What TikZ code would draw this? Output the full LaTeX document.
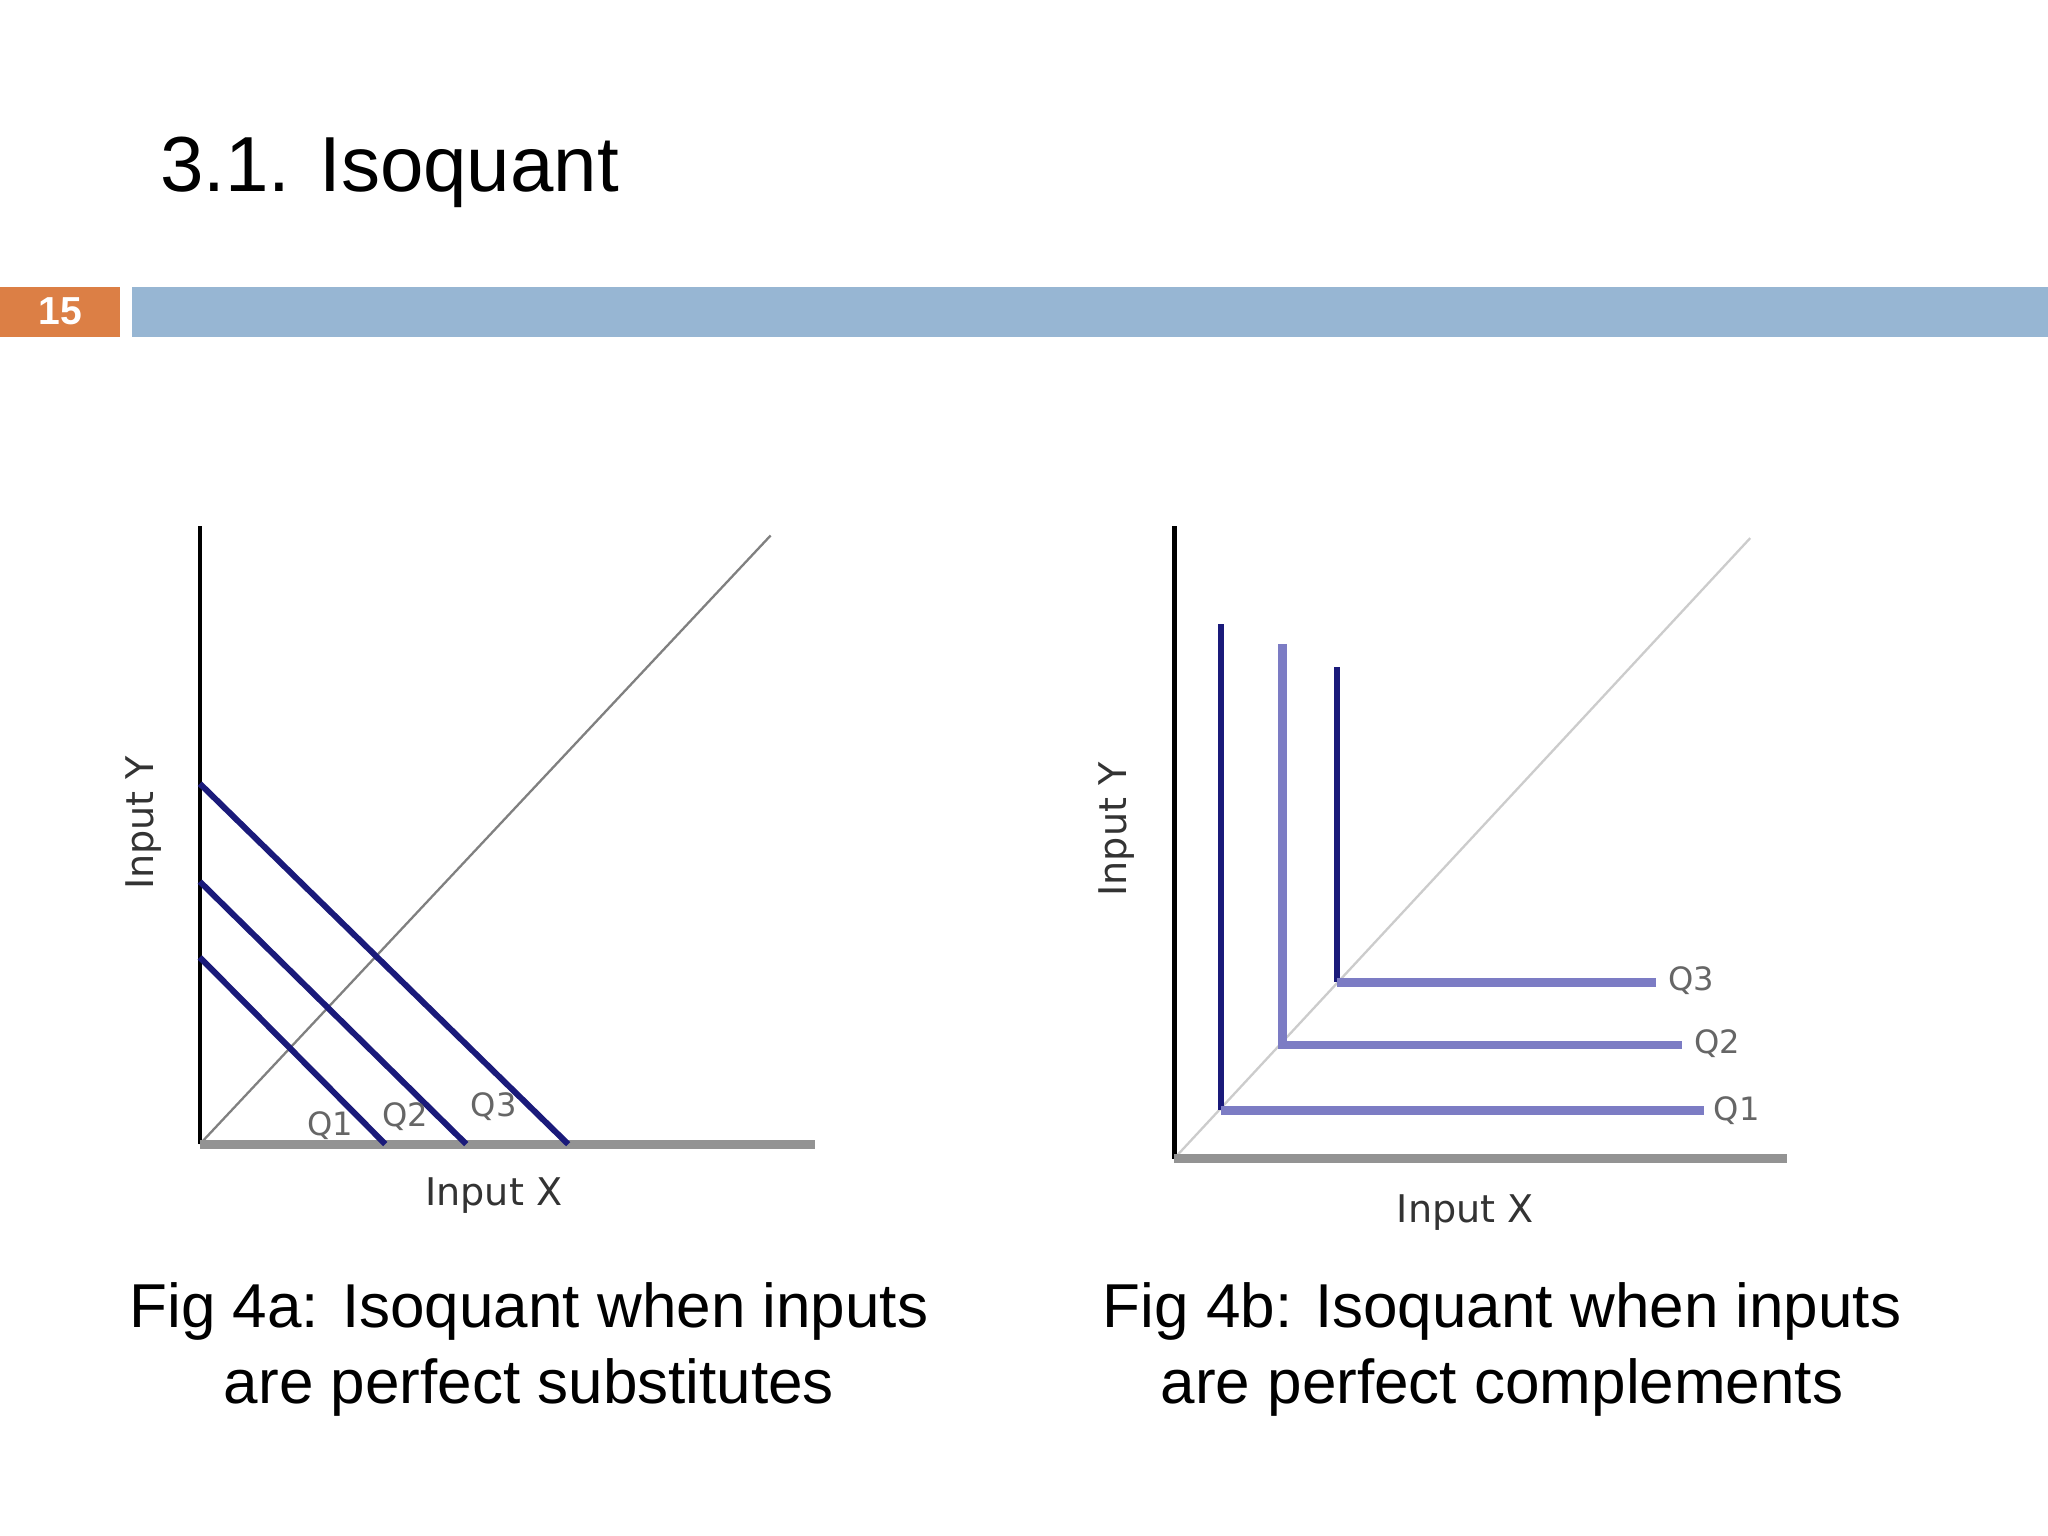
\documentclass[tikz,border=0pt]{standalone}
\usepackage{fontspec}
\setmainfont{Liberation Sans}
\newfontfamily\axisfont{DejaVu Sans}
\definecolor{barblue}{HTML}{97B6D3}
\definecolor{barorange}{HTML}{DC7F45}
\definecolor{navy}{HTML}{1A1A7A}
\definecolor{lav}{HTML}{7C7CC4}
\tikzset{
 ax/.style={line width=1pt,black},
 xax/.style={line width=2pt,gray!85},
 diag/.style={line width=0.5pt,gray},
 iso/.style={line width=1.3pt,navy},
 isol/.style={line width=1.9pt,lav},
 ql/.style={font=\axisfont\fontsize{7}{8}\selectfont,text=gray!80!black,inner sep=1pt},
 axl/.style={font=\axisfont\fontsize{8.3}{10}\selectfont,text=black!80},
 captext/.style={font=\fontsize{13.5}{16.5}\selectfont,align=center}
}
\begin{document}
\begin{tikzpicture}[x=0.01cm,y=-0.01cm]
\useasboundingbox (0,0) rectangle (1568,1176);
\fill[white] (0,0) rectangle (1568,1176);
\node[anchor=base west,inner sep=0pt,font=\fontsize{17}{20}\selectfont] (title) at (122,147) {3.1. Isoquant};
\fill[barorange] (0,220) rectangle (92,258);
\node[text=white,font=\bfseries\fontsize{8.5}{10}\selectfont] (num) at (46,238) {15};
\fill[barblue] (101,220) rectangle (1568,258);
% left plot
\coordinate (o1) at (153,876);
\coordinate (yt1) at (153,403);
\coordinate (xt1) at (624,876);
\coordinate (d1) at (590,410);
\draw[diag] (o1) -- (d1);
\draw[ax] (o1) -- (yt1);
\draw[xax] (o1) -- (xt1);
\coordinate (a1) at (153,600); \coordinate (b1) at (435,876);
\coordinate (a2) at (153,675); \coordinate (b2) at (357,876);
\coordinate (a3) at (153,733); \coordinate (b3) at (295,876);
\draw[iso] (a1) -- (b1);
\draw[iso] (a2) -- (b2);
\draw[iso] (a3) -- (b3);
\node[ql] (lq1) at (253,862) {Q1};
\node[ql] (lq2) at (310,855) {Q2};
\node[ql] (lq3) at (378,847) {Q3};
\node[axl] (lx) at (378,915) {Input X};
\node[axl,rotate=90] (ly) at (110,630) {Input Y};
% right plot
\coordinate (o2) at (899,887);
\coordinate (yt2) at (899,403);
\coordinate (xt2) at (1368,887);
\coordinate (d2) at (1340,412);
\draw[diag,gray!40] (o2) -- (d2);
\draw[ax] (o2) -- (yt2);
\draw[xax] (o2) -- (xt2);
\coordinate (t1) at (935,478); \coordinate (c1) at (935,850); \coordinate (e1) at (1305,850);
\coordinate (t2) at (982,493); \coordinate (c2) at (982,800); \coordinate (e2) at (1288,800);
\coordinate (t3) at (1024,511); \coordinate (c3) at (1024,752); \coordinate (e3) at (1268,752);
\draw[iso] (t1) -- (c1); \draw[isol] (c1) -- (e1);
\draw[isol] (t2) -- (c2) -- (e2);
\draw[iso] (t3) -- (c3); \draw[isol] (c3) -- (e3);
\node[ql,anchor=west] (rq1) at (1308,850) {Q1};
\node[ql,anchor=west] (rq2) at (1293,799) {Q2};
\node[ql,anchor=west] (rq3) at (1273,751) {Q3};
\node[axl] (rx) at (1122,928) {Input X};
\node[axl,rotate=90] (ry) at (855,635) {Input Y};
% captions
\node[captext] (capa) at (405,1033) {Fig 4a: Isoquant when inputs\\are perfect substitutes};
\node[captext] (capb) at (1150,1033) {Fig 4b: Isoquant when inputs\\are perfect complements};
\end{tikzpicture}
\end{document}
